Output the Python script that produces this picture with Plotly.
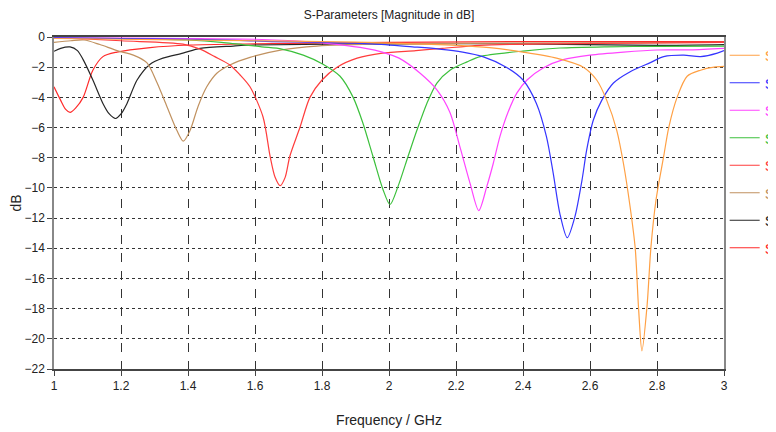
import plotly.graph_objects as go

# ---- data (frequency in GHz, magnitude in dB) ----
names = ["S1,1", "S2,2", "S3,3", "S4,4", "S5,5", "S6,6", "S7,7", "S8,8"]
colors = ["#FFA044", "#3535FF", "#FF44FF", "#3CC03C", "#FF3C3C", "#C0915F", "#262626", "#FF2A2A"]

f_s11 = [1.0, 1.2, 1.4, 1.6, 1.8, 2.0, 2.2, 2.3, 2.4, 2.5, 2.58, 2.62, 2.65, 2.68, 2.70, 2.72,
         2.735, 2.745, 2.755, 2.77, 2.782, 2.797, 2.82, 2.835, 2.86, 2.89, 2.93, 2.97, 3.0]
db_s11 = [-0.1, -0.15, -0.2, -0.25, -0.3, -0.4, -0.55, -0.7, -1.0, -1.4, -2.0, -2.85, -4.2, -6.2, -8.4, -11.3,
          -14.0, -18.0, -20.8, -17.9, -13.9, -10.8, -7.9, -6.0, -4.0, -2.6, -2.2, -2.0, -1.95]

f_s22 = [1.0, 1.2, 1.4, 1.52, 1.65, 1.8, 1.95, 2.07, 2.15, 2.22, 2.28, 2.35, 2.40, 2.44, 2.47, 2.49, 2.51,
         2.532, 2.555, 2.576, 2.59, 2.61, 2.635, 2.67, 2.72, 2.78, 2.82, 2.88, 2.93, 2.98, 3.0]
db_s22 = [-0.05, -0.1, -0.15, -0.2, -0.3, -0.35, -0.45, -0.65, -0.8, -1.0, -1.3, -2.0, -2.85, -4.4, -6.6, -9.0, -11.7,
          -13.3, -11.9, -9.5, -7.5, -5.5, -4.2, -3.05, -2.3, -1.7, -1.3, -1.2, -1.3, -1.07, -0.9]

f_s33 = [1.0, 1.2, 1.4, 1.6, 1.75, 1.85, 1.93, 1.98, 2.03, 2.093, 2.143, 2.182, 2.212, 2.242, 2.268,
         2.292, 2.311, 2.331, 2.355, 2.382, 2.412, 2.46, 2.52, 2.60, 2.70, 2.80, 2.9, 3.0]
db_s33 = [-0.05, -0.08, -0.1, -0.15, -0.3, -0.5, -0.75, -1.0, -1.4, -2.4, -3.5, -5.0, -7.3, -9.7, -11.5,
          -9.9, -8.4, -6.6, -5.0, -3.7, -2.85, -2.05, -1.5, -1.2, -1.0, -0.86, -0.85, -0.75]

f_s44 = [1.0, 1.2, 1.4, 1.5, 1.62, 1.68, 1.744, 1.803, 1.854, 1.893, 1.922, 1.952, 1.982, 2.003,
         2.027, 2.057, 2.083, 2.113, 2.143, 2.182, 2.233, 2.272, 2.40, 2.51, 2.65, 2.8, 3.0]
db_s44 = [-0.05, -0.1, -0.2, -0.35, -0.65, -0.8, -1.2, -1.8, -2.6, -4.0, -5.7, -7.9, -10.1, -11.1,
          -9.9, -7.9, -6.2, -4.4, -3.05, -2.2, -1.65, -1.3, -0.93, -0.73, -0.65, -0.62, -0.6]

f_s55 = [1.0, 1.2, 1.385, 1.436, 1.48, 1.525, 1.555, 1.585, 1.624, 1.645, 1.66, 1.675, 1.69, 1.704,
         1.734, 1.764, 1.80, 1.845, 1.905, 1.98, 2.08, 2.16, 2.27, 2.5, 2.75, 3.0]
db_s55 = [-0.02, -0.25, -0.47, -0.8, -1.3, -1.85, -2.5, -3.3, -5.3, -7.9, -9.3, -9.85, -9.3, -7.9,
          -6.0, -4.0, -2.85, -2.0, -1.4, -1.07, -0.9, -0.75, -0.55, -0.45, -0.4, -0.35]

f_s66 = [1.0, 1.05, 1.09, 1.137, 1.188, 1.237, 1.277, 1.307, 1.337, 1.367, 1.386, 1.406, 1.43, 1.456,
         1.486, 1.525, 1.585, 1.68, 1.785, 2.0, 2.4, 3.0]
db_s66 = [-0.35, -0.25, -0.2, -0.5, -0.9, -1.2, -1.7, -3.0, -4.6, -6.2, -6.9, -6.2, -4.6, -3.3,
          -2.4, -1.85, -1.35, -0.85, -0.6, -0.46, -0.4, -0.35]

f_s77 = [1.0, 1.02, 1.048, 1.07, 1.087, 1.116, 1.146, 1.165, 1.184, 1.2, 1.218, 1.248, 1.287, 1.325,
         1.385, 1.436, 1.535, 1.6, 2.0, 2.4, 2.8, 3.0]
db_s77 = [-0.95, -0.75, -0.66, -0.9, -1.5, -2.85, -4.4, -5.1, -5.4, -5.1, -4.4, -2.85, -1.8, -1.4,
          -1.07, -0.75, -0.6, -0.53, -0.45, -0.45, -0.55, -0.5]

f_s88 = [1.0, 1.02, 1.035, 1.048, 1.065, 1.087, 1.116, 1.146, 1.188, 1.287, 1.405, 1.6, 2.0, 2.5, 3.0]
db_s88 = [-3.3, -4.2, -4.8, -5.0, -4.7, -4.0, -2.2, -1.3, -1.0, -0.7, -0.53, -0.45, -0.35, -0.3, -0.3]

freqs = [f_s11, f_s22, f_s33, f_s44, f_s55, f_s66, f_s77, f_s88]
mags = [db_s11, db_s22, db_s33, db_s44, db_s55, db_s66, db_s77, db_s88]

x_ticks = [1, 1.2, 1.4, 1.6, 1.8, 2, 2.2, 2.4, 2.6, 2.8, 3]
y_ticks = list(range(0, -23, -2))

FONT = "Liberation Sans, Arial, sans-serif"

fig = go.Figure()
# draw in reverse so S1,1 is on top
for i in reversed(range(len(names))):
    fig.add_trace(go.Scatter(
        x=freqs[i], y=mags[i], mode="lines",
        name=f'<span style="color:{colors[i]}">{names[i]}</span>',
        line=dict(color=colors[i], width=1.2, shape="spline", smoothing=0.8),
        legendgroup=names[i], legendrank=i + 1,
    ))

# the page body adds an 8 px offset; margins compensate so the plot area
# lands at x 54..724, y 37..369 in the 776x432 window
fig.update_layout(
    width=776, height=432,
    margin=dict(l=46, r=60, t=29, b=71, autoexpand=False),
    paper_bgcolor="white", plot_bgcolor="white",
    font=dict(family=FONT, size=12, color="#222"),
    title=dict(text="S-Parameters [Magnitude in dB]", x=0.5, xref="paper", xanchor="center",
               y=0.985, yanchor="middle", font=dict(size=12, color="#222")),
    legend=dict(x=1.001, y=0.994, xanchor="left", yanchor="top", traceorder="grouped",
                tracegroupgap=5, font=dict(size=15), bgcolor="rgba(0,0,0,0)"),
    xaxis=dict(range=[1, 3], tickvals=x_ticks, ticktext=[f"{v:g}" for v in x_ticks],
               showgrid=True, gridcolor="#333", griddash="dash", gridwidth=1,
               showline=True, linecolor="#444", linewidth=1.5, mirror=True,
               ticks="outside", ticklen=5, tickcolor="#444", zeroline=False,
               title=dict(text="Frequency / GHz", standoff=23)),
    yaxis=dict(range=[-22, 0], tickvals=y_ticks,
               showgrid=True, gridcolor="#333", griddash="dot", gridwidth=1.3,
               showline=True, linecolor="#888", linewidth=1.5, mirror=True,
               ticks="outside", ticklen=5, tickcolor="#444", zeroline=False,
               title=dict(text="dB", standoff=4)),
)

fig.write_html("out.html")
